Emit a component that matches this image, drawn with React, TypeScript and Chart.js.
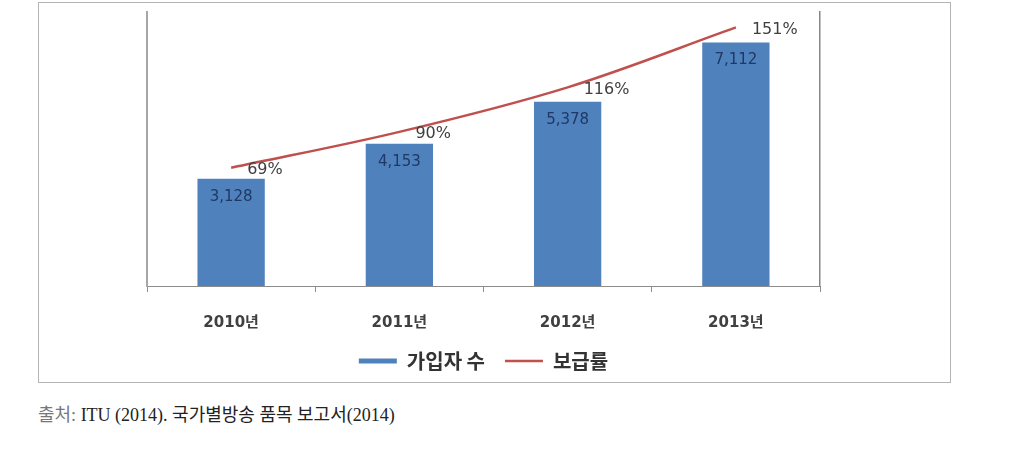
import React, { useEffect, useRef } from "react";
import { Chart, registerables } from "chart.js";

Chart.register(...registerables);

const categories = ["2010년", "2011년", "2012년", "2013년"];
const subscribers = [3128, 4153, 5378, 7112];
const penetration = [69, 90, 116, 151];
const seriesNames = ["가입자 수", "보급률"];
const sourceLabel = "출처:";
const sourceText = " ITU (2014). 국가별방송 품목 보고서(2014)";

const BAR_COLOR = "#4F81BD";
const LINE_COLOR = "#C0504D";

const labelPlugin = {
  id: "valueLabels",
  afterDatasetsDraw(chart: any) {
    const ctx = chart.ctx;
    ctx.save();
    const barMeta = chart.getDatasetMeta(0);
    ctx.font = "15px 'DejaVu Sans'";
    ctx.fillStyle = "#1F3864";
    ctx.textAlign = "center";
    ctx.textBaseline = "middle";
    barMeta.data.forEach((el: any, i: number) => {
      const v = chart.data.datasets[0].data[i] as number;
      ctx.fillText(v.toLocaleString("en-US"), el.x, el.y + 18);
    });
    const lineMeta = chart.getDatasetMeta(1);
    ctx.font = "16px 'DejaVu Sans'";
    ctx.fillStyle = "#404040";
    ctx.textAlign = "left";
    lineMeta.data.forEach((el: any, i: number) => {
      const v = chart.data.datasets[1].data[i];
      ctx.fillText(`${v}%`, el.x + 16, el.y + 2);
    });
    ctx.restore();
  },
};

export default function App() {
  const ref = useRef<HTMLCanvasElement | null>(null);
  useEffect(() => {
    if (!ref.current) return;
    const chart = new Chart(ref.current, {
      type: "bar",
      data: {
        labels: categories,
        datasets: [
          {
            type: "bar",
            label: seriesNames[0],
            data: subscribers,
            backgroundColor: BAR_COLOR,
            borderWidth: 0,
            yAxisID: "y",
            barPercentage: 0.4,
            categoryPercentage: 1,
            pointStyle: "rect",
          } as any,
          {
            type: "line",
            label: seriesNames[1],
            data: penetration,
            borderColor: LINE_COLOR,
            backgroundColor: LINE_COLOR,
            borderWidth: 2.5,
            pointRadius: 0,
            tension: 0.35,
            yAxisID: "y1",
            pointStyle: "line",
          } as any,
        ],
      },
      options: {
        responsive: false,
        animation: false,
        layout: { padding: { left: 108, right: 130, top: 9, bottom: 3 } },
        plugins: {
          tooltip: { enabled: false },
          legend: {
            position: "bottom",
            labels: {
              usePointStyle: true,
              pointStyleWidth: 38,
              boxHeight: 5,
              padding: 20,
              color: "#333333",
              font: { family: "'Noto Sans CJK KR'", size: 20, weight: "bold" },
            },
          },
        },
        scales: {
          x: {
            offset: true,
            grid: {
              display: true,
              offset: true,
              drawOnChartArea: false,
              drawTicks: true,
              tickLength: 6,
              color: "#8C8C8C",
            },
            border: { display: true, color: "#8C8C8C", width: 1 },
            ticks: {
              padding: 22,
              color: "#404040",
              font: { family: "'DejaVu Sans', 'Noto Sans CJK KR'", size: 15, weight: "bold" },
            },
            afterFit: (s: any) => {
              s.height = 45;
            },
          },
          y: {
            position: "left",
            min: 0,
            max: 8000,
            ticks: { display: false },
            grid: { display: false, drawTicks: false },
            border: { display: true, color: "#A6A6A6", width: 2 },
            afterFit: (s: any) => {
              s.width = 0;
            },
          },
          y1: {
            position: "right",
            min: 0,
            max: 160,
            ticks: { display: false },
            grid: { display: false, drawTicks: false },
            border: { display: true, color: "#868686", width: 1.5 },
            afterFit: (s: any) => {
              s.width = 0;
            },
          },
        },
      },
      plugins: [labelPlugin],
    } as any);
    return () => chart.destroy();
  }, []);

  return (
    <div style={{ position: "absolute", left: 0, top: 0, width: 1016, height: 450, background: "#fff" }}>
      <div
        style={{
          position: "absolute",
          left: 38,
          top: 2,
          width: 911,
          height: 379,
          border: "1px solid #B4B4B4",
        }}
      />
      <canvas
        ref={ref}
        width={911}
        height={381}
        style={{ position: "absolute", left: 39, top: 3, width: 911, height: 381 }}
      />
      <div
        style={{
          position: "absolute",
          left: 38,
          top: 400,
          fontFamily: "'Liberation Serif', 'Noto Sans CJK KR', serif",
          fontSize: 18,
          color: "#222",
          whiteSpace: "pre",
        }}
      >
        <span style={{ color: "#777" }}>{sourceLabel}</span>
        {sourceText}
      </div>
    </div>
  );
}
